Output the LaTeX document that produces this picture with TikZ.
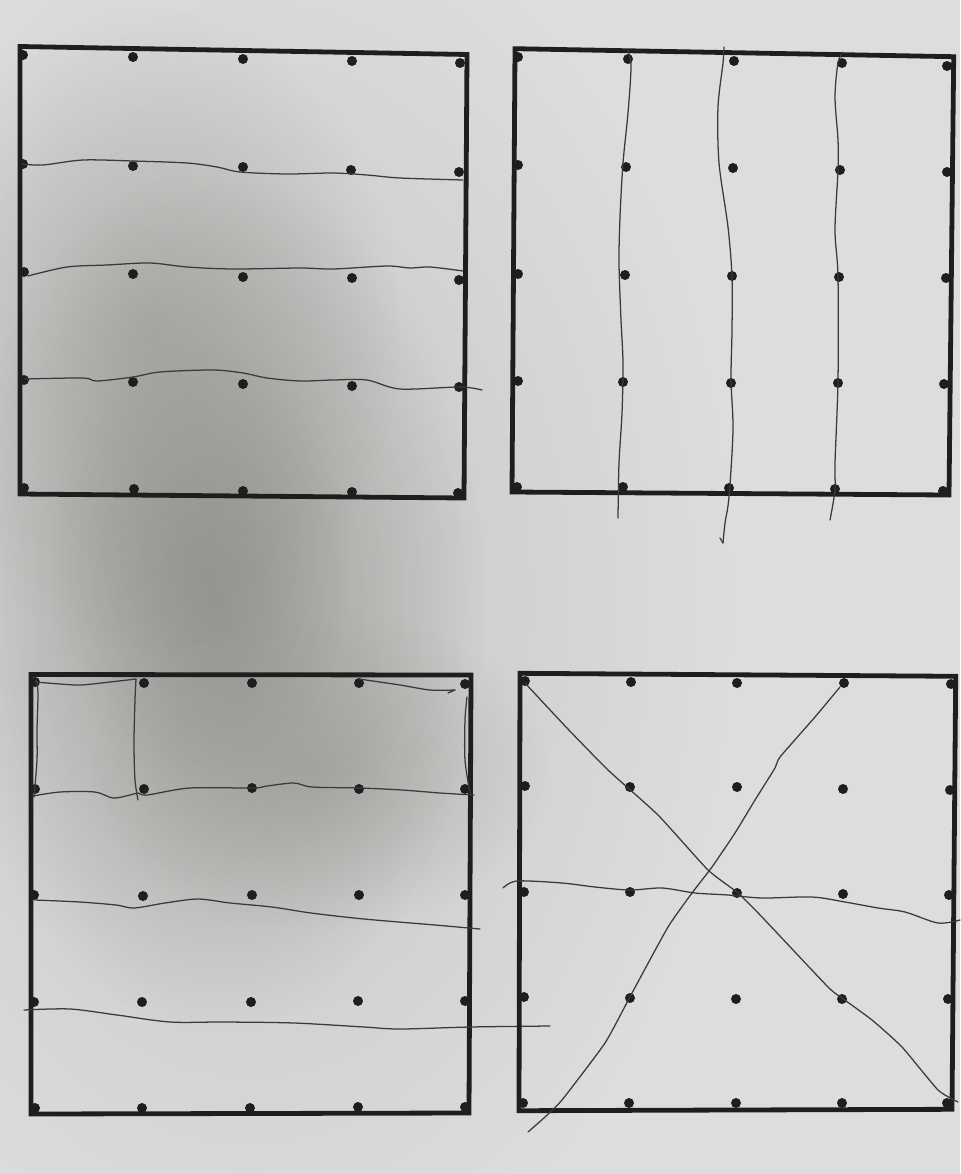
\documentclass[tikz,border=0pt]{standalone}
\usetikzlibrary{calc,fadings}
\definecolor{paper}{HTML}{DCDEDD}
\definecolor{shade}{HTML}{8E8C88}
\definecolor{ink}{HTML}{1E1E1E}
\definecolor{pencil}{HTML}{3A3A3A}
\tikzfading[name=softblob, inner color=transparent!0, outer color=transparent!100]
\tikzset{
  frame/.style={draw=ink, line width=3.6pt, line join=miter},
  dotmark/.style={fill=ink},
  handline/.style={draw=pencil, line width=0.95pt, line cap=round, line join=round},
  shadowblob/.style={fill=shade, path fading=softblob},
}
\newcommand{\dotrow}[1]{\foreach \p in {#1} {\fill[dotmark] \p circle (5);}}
\begin{document}
\begin{tikzpicture}[x=0.75pt, y=-0.75pt]
\useasboundingbox (0,0) rectangle (960,1174);
% paper and shadows
\fill[paper] (0,0) rectangle (960,1174);
\fill[shadowblob, fill opacity=0.30] (250,600) ellipse [x radius=480, y radius=720];
\fill[shadowblob, fill opacity=0.75] (215,600) ellipse [x radius=270, y radius=430];
\fill[shadowblob, fill opacity=0.40] (200,560) ellipse [x radius=150, y radius=220];
\fill[shadowblob, fill opacity=0.45] (320,770) ellipse [x radius=230, y radius=160];
\fill[shadowblob, fill opacity=0.50] (150,330) ellipse [x radius=250, y radius=320];

% ---------- top-left square ----------
\draw[frame] (20,46.5) -- (467,54.5) -- (464,498) -- (20,494) -- cycle;
\dotrow{(23,55),(133,57),(243,59),(352,61),(460,63)}
\dotrow{(23,164),(133,166),(243,167),(351,170),(459,172)}
\dotrow{(24,272),(133,274),(243,277),(352,278),(459,280)}
\dotrow{(24,380),(133,382),(243,384),(352,386),(459,387)}
\dotrow{(24,488),(134,489),(243,491),(352,492),(458,493)}
\draw[handline] plot[smooth, tension=0.5] coordinates {(22,164) (43,165) (83,160) (133,161) (187,163) (217,167) (240,172) (287,174) (333,173) (367,175) (400,178) (463,180)};
\draw[handline] plot[smooth, tension=0.5] coordinates {(28,276) (67,267) (107,265) (150,263) (187,267) (233,269) (300,268) (333,269) (387,266) (410,268) (430,267) (463,271)};
\draw[handline] plot[smooth, tension=0.5] coordinates {(25,379) (83,378) (97,381) (133,377) (160,372) (213,370) (243,373) (267,378) (300,381) (333,380) (367,380) (400,389) (460,387) (482,390)};

% ---------- top-right square ----------
\draw[frame] (515,48.7) -- (953.7,56.7) -- (949,495) -- (512,492) -- cycle;
\dotrow{(518,57),(628,59),(734,61),(842,63),(947,66)}
\dotrow{(518,165),(626,167),(733,168),(840,170),(947,172)}
\dotrow{(518,274),(625,275),(732,276),(839,277),(946,278)}
\dotrow{(518,381),(623,382),(731,383),(838,383),(944,384)}
\dotrow{(517,487),(623,487),(729,488),(835,489),(943,491)}
\draw[handline] plot[smooth, tension=0.5] coordinates {(628,50) (631,67) (628,113) (623,163) (620,217) (619,263) (621,320) (623,363) (622,413) (619,463) (618,518)};
\draw[handline] plot[smooth, tension=0.5] coordinates {(724,47) (723,63) (718,107) (719,163) (728,227) (732,277) (732,330) (731,380) (733,430) (729,497) (725,523) (723,543)};
\draw[handline] (723,543) -- (720,538);
\draw[handline] plot[smooth, tension=0.5] coordinates {(843,52) (838,63) (835,97) (838,140) (838,170) (835,230) (838,277) (838,380) (835,463) (835,490) (830,520)};

% ---------- bottom-left square ----------
\draw[frame] (31,674.5) -- (471,675) -- (469,1113) -- (31,1114) -- cycle;
\dotrow{(35,682),(144,683),(252,683),(359,683),(465,684)}
\dotrow{(35,789),(144,789),(252,788),(359,789),(465,789)}
\dotrow{(34,895),(143,896),(252,895),(359,895),(465,895)}
\dotrow{(34,1002),(142,1002),(251,1002),(358,1001),(465,1001)}
\dotrow{(35,1108),(142,1108),(250,1108),(358,1107),(465,1107)}
% small rectangles in the top row
\draw[handline] plot[smooth, tension=0.5] coordinates {(35,682) (60,684) (81,685) (110,682) (136,679)};
\draw[handline] plot[smooth, tension=0.5] coordinates {(136,679) (135,700) (134,743) (135,780) (138,800)};
\draw[handline] plot[smooth, tension=0.5] coordinates {(36,680) (38,693) (37,730) (37,760) (34,797)};
\draw[handline] plot[smooth, tension=0.5] coordinates {(359,679) (400,685) (430,690) (455,690)};
\draw[handline] (455,690) -- (448,693);
\draw[handline] plot[smooth, tension=0.5] coordinates {(467,697) (465,720) (465,760) (470,793)};
\draw[handline] plot[smooth, tension=0.5] coordinates {(33,796) (60,792) (95,792) (113,798) (130,795) (138,793) (147,795) (190,788) (253,788) (267,786) (294,783) (312,787) (360,788) (402,790) (440,793) (474,795)};
\draw[handline] plot[smooth, tension=0.5] coordinates {(35,900) (80,902) (116,905) (134,908) (165,903) (198,899) (230,903) (272,907) (311,913) (364,919) (435,925) (480,929)};
\draw[handline] plot[smooth, tension=0.5] coordinates {(24,1010) (70,1009) (117,1015) (170,1022) (223,1022) (294,1023) (364,1027) (400,1029) (470,1027) (550,1026)};

% ---------- bottom-right square ----------
\draw[frame] (520,673.3) -- (955.7,676.3) -- (952,1109.3) -- (519,1110.7) -- cycle;
\dotrow{(525,681),(631,682),(737,683),(844,683),(951,684)}
\dotrow{(525,786),(630,787),(737,787),(843,789),(950,790)}
\dotrow{(524,892),(630,892),(737,893),(843,894),(949,895)}
\dotrow{(524,997),(630,998),(736,999),(842,999),(948,999)}
\dotrow{(523,1103),(629,1103),(736,1103),(842,1103),(947,1103)}
\draw[handline] plot[smooth, tension=0.3] coordinates {(525,683) (566,727) (608,770) (658,815) (708,870) (738,893) (762,917) (828,987) (842,998) (872,1020) (902,1047) (938,1090) (958,1102)};
\draw[handline] plot[smooth, tension=0.3] coordinates {(840,687) (815,717) (780,757) (775,768) (755,800) (735,833) (712,867) (692,893) (668,927) (632,993) (605,1043) (562,1100) (545,1117) (528,1132)};
\draw[handline] plot[smooth, tension=0.5] coordinates {(503,888) (517,881) (562,883) (595,887) (630,890) (662,888) (695,893) (728,895) (762,898) (812,897) (845,902) (878,908) (905,912) (938,923) (960,920)};
\end{tikzpicture}
\end{document}
